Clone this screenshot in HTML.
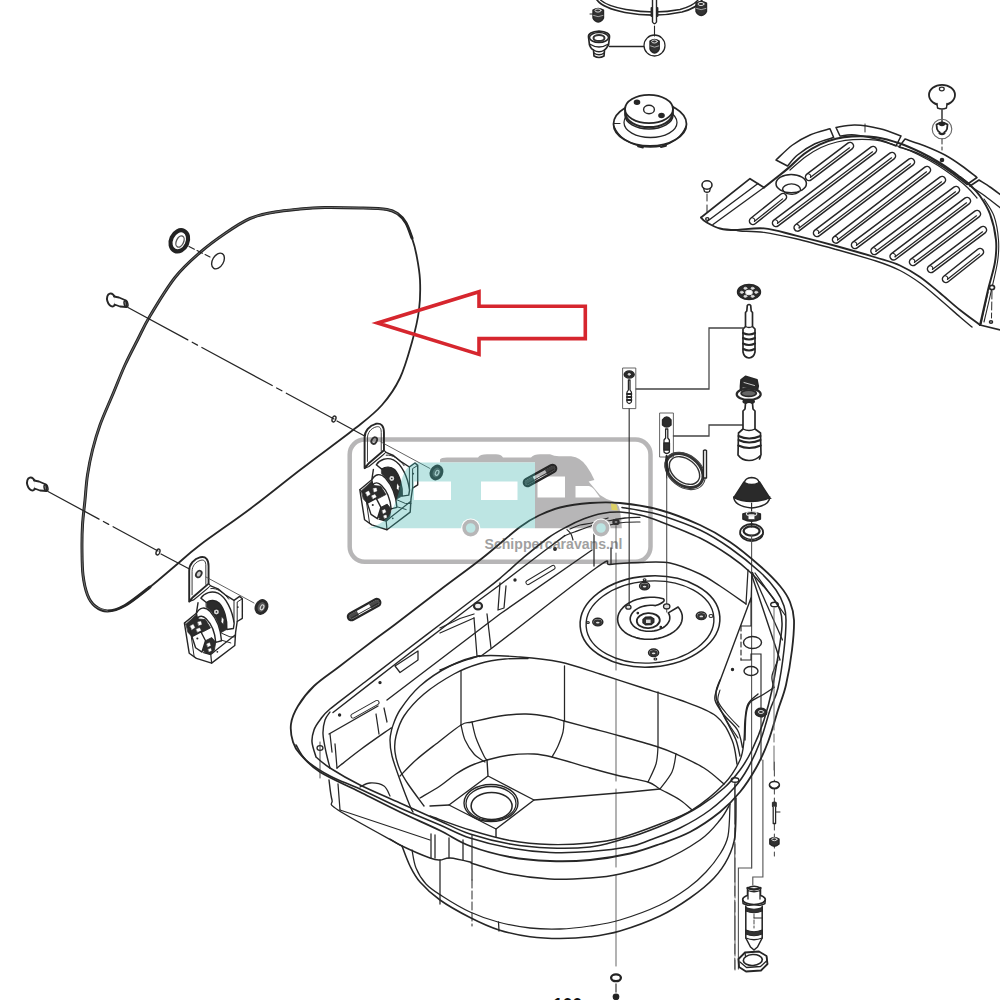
<!DOCTYPE html>
<html><head><meta charset="utf-8"><title>Exploded view</title>
<style>
html,body{margin:0;padding:0;background:#fff;}
body{width:1000px;height:1000px;overflow:hidden;font-family:"Liberation Sans",sans-serif;}
svg{display:block;}
</style></head><body>
<svg width="1000" height="1000" viewBox="0 0 1000 1000" fill="none" stroke-linecap="round" stroke-linejoin="round">
<rect x="0" y="0" width="1000" height="1000" fill="#ffffff"/>
<g id="lid">
<path d="M250.0,218.5 C258.3,214.9 266.7,213.6 275.0,212.0 C283.3,210.4 291.7,209.8 300.0,209.0 C308.3,208.2 315.0,207.7 325.0,207.5 C335.0,207.3 349.7,207.7 360.0,208.0 C370.3,208.3 380.7,208.5 387.0,209.5 C393.3,210.5 394.8,211.8 398.0,214.0 C401.2,216.2 403.7,219.0 406.0,223.0 C408.3,227.0 410.2,232.7 412.0,238.0 C413.8,243.3 415.2,248.0 416.5,255.0 C417.8,262.0 419.6,270.8 420.0,280.0 C420.4,289.2 420.3,299.7 419.0,310.0 C417.7,320.3 415.2,330.7 412.0,342.0 C408.8,353.3 405.0,367.5 400.0,378.0 C395.0,388.5 389.2,396.8 382.0,405.0 C374.8,413.2 370.7,416.2 357.0,427.0 C343.3,437.8 317.8,456.3 300.0,470.0 C282.2,483.7 266.7,496.5 250.0,509.0 C233.3,521.5 212.5,535.5 200.0,545.0 C187.5,554.5 183.3,559.0 175.0,566.0 C166.7,573.0 158.3,580.4 150.0,587.0 C141.7,593.6 132.1,601.5 125.0,605.5 C117.9,609.5 112.5,610.9 107.5,611.0 C102.5,611.1 98.3,608.7 95.0,606.0 C91.7,603.3 89.5,600.2 87.5,595.0 C85.5,589.8 83.9,582.5 83.0,575.0 C82.1,567.5 82.1,558.3 82.0,550.0 C81.9,541.7 82.0,533.3 82.5,525.0 C83.0,516.7 84.2,508.3 85.0,500.0 C85.8,491.7 86.2,483.3 87.5,475.0 C88.8,466.7 90.4,458.3 92.5,450.0 C94.6,441.7 96.7,434.2 100.0,425.0 C103.3,415.8 108.3,405.0 112.5,395.0 C116.7,385.0 120.8,374.2 125.0,365.0 C129.2,355.8 133.3,348.2 137.5,340.0 C141.7,331.8 143.8,326.4 150.0,316.0 C156.2,305.6 166.7,288.1 175.0,277.5 C183.3,266.9 191.7,259.8 200.0,252.5 C208.3,245.2 216.7,239.2 225.0,233.5 C233.3,227.8 241.7,222.1 250.0,218.5Z" fill="none" stroke="#262626" stroke-width="1.8" />
<path d="M150.0,587.0 C145.8,590.1 132.1,601.5 125.0,605.5 C117.9,609.5 112.5,610.9 107.5,611.0 C102.5,611.1 98.3,608.7 95.0,606.0 C91.7,603.3 89.5,600.2 87.5,595.0 C85.5,589.8 83.9,582.5 83.0,575.0 C82.1,567.5 82.1,558.3 82.0,550.0 C81.9,541.7 82.0,533.3 82.5,525.0 C83.0,516.7 84.2,508.3 85.0,500.0 C85.8,491.7 86.2,483.3 87.5,475.0 C88.8,466.7 90.4,458.3 92.5,450.0 C94.6,441.7 96.7,434.2 100.0,425.0 C103.3,415.8 108.3,405.0 112.5,395.0 C116.7,385.0 120.8,374.2 125.0,365.0 C129.2,355.8 133.3,348.2 137.5,340.0 C141.7,331.8 143.8,326.4 150.0,316.0 C156.2,305.6 166.7,288.1 175.0,277.5 C183.3,266.9 191.7,259.8 200.0,252.5 C208.3,245.2 216.7,239.2 225.0,233.5 C233.3,227.8 241.7,222.1 250.0,218.5 C258.3,214.9 266.7,213.6 275.0,212.0 C283.3,210.4 291.7,209.8 300.0,209.0 C308.3,208.2 315.0,207.7 325.0,207.5 C335.0,207.3 349.7,207.7 360.0,208.0 C370.3,208.3 380.7,208.5 387.0,209.5 C393.3,210.5 394.8,211.8 398.0,214.0 C401.2,216.2 403.7,219.0 406.0,223.0 C408.3,227.0 411.0,235.5 412.0,238.0" fill="none" stroke="#262626" stroke-width="3.0" />
<path d="M107.5,611.0 C105.4,610.2 98.3,608.7 95.0,606.0 C91.7,603.3 89.5,600.2 87.5,595.0 C85.5,589.8 83.9,582.5 83.0,575.0 C82.1,567.5 82.1,558.3 82.0,550.0 C81.9,541.7 82.0,533.3 82.5,525.0 C83.0,516.7 84.2,508.3 85.0,500.0 C85.8,491.7 86.2,483.3 87.5,475.0 C88.8,466.7 90.4,458.3 92.5,450.0 C94.6,441.7 96.7,434.2 100.0,425.0 C103.3,415.8 108.3,405.0 112.5,395.0 C116.7,385.0 120.8,374.2 125.0,365.0 C129.2,355.8 133.3,348.2 137.5,340.0 C141.7,331.8 143.8,326.4 150.0,316.0 C156.2,305.6 166.7,288.1 175.0,277.5 C183.3,266.9 191.7,259.8 200.0,252.5 C208.3,245.2 216.7,239.2 225.0,233.5 C233.3,227.8 241.7,222.1 250.0,218.5 C258.3,214.9 266.7,213.6 275.0,212.0 C283.3,210.4 291.7,209.8 300.0,209.0 C308.3,208.2 315.0,207.7 325.0,207.5 C335.0,207.3 349.7,207.7 360.0,208.0 C370.3,208.3 380.7,208.5 387.0,209.5 C393.3,210.5 396.2,213.2 398.0,214.0" fill="none" stroke="#8a8a8a" stroke-width="0.7" />
<ellipse cx="218" cy="261" rx="5.5" ry="8.5" fill="none" stroke="#262626" stroke-width="1.4" transform="rotate(30 218 261)"/>
<ellipse cx="179.3" cy="240.8" rx="8.3" ry="11" fill="none" stroke="#222" stroke-width="4.2" transform="rotate(25 179.3 240.8)"/>
<ellipse cx="180" cy="241.5" rx="3.6" ry="6" fill="none" stroke="#555" stroke-width="1.4" transform="rotate(25 180 241.5)"/>
<line x1="189" y1="246.5" x2="210" y2="257" stroke="#262626" stroke-width="1.12" stroke-dasharray="6 3"/>
<ellipse cx="111.5" cy="300" rx="4.3" ry="6.6" fill="#fff" stroke="#262626" stroke-width="1.96" transform="rotate(-15 111.5 300)"/>
<path d="M114.0,296.5 L119.0,297.5 L126.0,300.5 L126.5,307.0 L120.0,306.5 L114.5,304.5" fill="#fff" stroke="#262626" stroke-width="1.82" />
<ellipse cx="126" cy="303.8" rx="1.8" ry="3.2" fill="none" stroke="#262626" stroke-width="1.54" transform="rotate(-15 126 303.8)"/>
<line x1="128" y1="307.5" x2="334" y2="419" stroke="#262626" stroke-width="1.26" stroke-dasharray="68 5 6 5 80 5 6 5"/>
<ellipse cx="334" cy="419" rx="1.8" ry="3" fill="none" stroke="#262626" stroke-width="1.4" transform="rotate(20 334 419)"/>
<line x1="337" y1="421" x2="372" y2="440" stroke="#262626" stroke-width="1.26"/>
<ellipse cx="31.5" cy="484" rx="4.3" ry="6.6" fill="#fff" stroke="#262626" stroke-width="1.96" transform="rotate(-15 31.5 484)"/>
<path d="M34.0,480.5 L39.0,481.5 L46.0,484.5 L46.5,491.0 L40.0,490.5 L34.5,488.5" fill="#fff" stroke="#262626" stroke-width="1.82" />
<ellipse cx="46" cy="487.8" rx="1.8" ry="3.2" fill="none" stroke="#262626" stroke-width="1.54" transform="rotate(-15 46 487.8)"/>
<line x1="48" y1="491.5" x2="158" y2="551" stroke="#262626" stroke-width="1.26" stroke-dasharray="58 5 6 5 80 5 6 5"/>
<ellipse cx="158" cy="552" rx="1.8" ry="3" fill="none" stroke="#262626" stroke-width="1.4" transform="rotate(20 158 552)"/>
<line x1="161" y1="554" x2="197" y2="573" stroke="#262626" stroke-width="1.26"/>
</g>
<path d="M377.5,323.0 L479.0,291.8 L479.0,306.3 L585.3,306.3 L585.3,338.6 L479.0,338.6 L479.0,354.4Z" fill="none" stroke="#d6262e" stroke-width="3.6" stroke-linejoin="miter" stroke-miterlimit="10"/>
<g id="grill">
<line x1="753" y1="221" x2="783" y2="197" stroke="#262626" stroke-width="8.6"/>
<line x1="753" y1="221" x2="783" y2="197" stroke="#fff" stroke-width="5.6"/>
<line x1="754.5305028665084" y1="221.31234752377722" x2="782.5783308429008" y2="198.87408514266326" stroke="#262626" stroke-width="1.26"/>
<path d="M752.4,217.8 Q755.7,218.9 754.5,221.3" fill="none" stroke="#262626" stroke-width="1.12" />
<line x1="809" y1="177" x2="850" y2="146" stroke="#262626" stroke-width="8.6"/>
<line x1="809" y1="177" x2="850" y2="146" stroke="#fff" stroke-width="5.6"/>
<line x1="810.5213892611281" y1="177.35408292266663" x2="849.5272409329231" y2="147.861853609846" stroke="#262626" stroke-width="1.26"/>
<path d="M808.4,173.8 Q811.7,174.9 810.5,177.4" fill="none" stroke="#262626" stroke-width="1.12" />
<line x1="776" y1="223" x2="873" y2="150" stroke="#262626" stroke-width="8.6"/>
<line x1="776" y1="223" x2="873" y2="150" stroke="#fff" stroke-width="5.6"/>
<line x1="777.5205910172235" y1="223.35749539624865" x2="872.5230648976313" y2="151.8607882491376" stroke="#262626" stroke-width="1.26"/>
<path d="M775.5,219.8 Q778.7,221.0 777.5,223.4" fill="none" stroke="#262626" stroke-width="1.12" />
<line x1="797.6" y1="227.6" x2="892" y2="156" stroke="#262626" stroke-width="8.6"/>
<line x1="797.6" y1="227.6" x2="892" y2="156" stroke="#fff" stroke-width="5.6"/>
<line x1="799.1219224281082" y1="227.95178419922107" x2="891.530054121578" y2="157.86256566900448" stroke="#262626" stroke-width="1.26"/>
<path d="M797.0,224.4 Q800.3,225.5 799.1,228.0" fill="none" stroke="#262626" stroke-width="1.12" />
<line x1="817" y1="233" x2="911" y2="162" stroke="#262626" stroke-width="8.6"/>
<line x1="817" y1="233" x2="911" y2="162" stroke="#fff" stroke-width="5.6"/>
<line x1="818.5212136410926" y1="233.35483666404951" x2="910.5263185202401" y2="163.8616191489487" stroke="#262626" stroke-width="1.26"/>
<path d="M816.4,229.8 Q819.7,231.0 818.5,233.4" fill="none" stroke="#262626" stroke-width="1.12" />
<line x1="836" y1="239.6" x2="927" y2="170" stroke="#262626" stroke-width="8.6"/>
<line x1="836" y1="239.6" x2="927" y2="170" stroke="#fff" stroke-width="5.6"/>
<line x1="837.5233261631521" y1="239.9456550312905" x2="926.5375554657129" y2="171.86444228999127" stroke="#262626" stroke-width="1.26"/>
<path d="M835.4,236.4 Q838.7,237.5 837.5,239.9" fill="none" stroke="#262626" stroke-width="1.12" />
<line x1="855" y1="245" x2="942" y2="180" stroke="#262626" stroke-width="8.6"/>
<line x1="855" y1="245" x2="942" y2="180" stroke="#fff" stroke-width="5.6"/>
<line x1="856.5193344401148" y1="245.3627986481244" x2="941.5165754054179" y2="181.85911286944963" stroke="#262626" stroke-width="1.26"/>
<path d="M854.5,241.8 Q857.7,243.0 856.5,245.4" fill="none" stroke="#262626" stroke-width="1.12" />
<line x1="874.4" y1="251" x2="956" y2="190" stroke="#262626" stroke-width="8.6"/>
<line x1="874.4" y1="251" x2="956" y2="190" stroke="#fff" stroke-width="5.6"/>
<line x1="875.919432755218" y1="251.36238667521093" x2="955.5170795119075" y2="191.85924387915637" stroke="#262626" stroke-width="1.26"/>
<path d="M873.9,247.8 Q877.1,249.0 875.9,251.4" fill="none" stroke="#262626" stroke-width="1.12" />
<line x1="893.6" y1="256.4" x2="967" y2="201" stroke="#262626" stroke-width="8.6"/>
<line x1="893.6" y1="256.4" x2="967" y2="201" stroke="#fff" stroke-width="5.6"/>
<line x1="895.1210890778966" y1="256.7553702535435" x2="966.525665530613" y2="202.86145287642512" stroke="#262626" stroke-width="1.26"/>
<path d="M893.1,253.2 Q896.3,254.4 895.1,256.8" fill="none" stroke="#262626" stroke-width="1.12" />
<line x1="913" y1="262" x2="977" y2="214" stroke="#262626" stroke-width="8.6"/>
<line x1="913" y1="262" x2="977" y2="214" stroke="#fff" stroke-width="5.6"/>
<line x1="914.52" y1="262.35999999999996" x2="976.52" y2="215.86" stroke="#262626" stroke-width="1.26"/>
<path d="M912.5,258.8 Q915.7,260.0 914.5,262.4" fill="none" stroke="#262626" stroke-width="1.12" />
<line x1="931" y1="269" x2="983" y2="230" stroke="#262626" stroke-width="8.6"/>
<line x1="931" y1="269" x2="983" y2="230" stroke="#fff" stroke-width="5.6"/>
<line x1="932.52" y1="269.35999999999996" x2="982.52" y2="231.86" stroke="#262626" stroke-width="1.26"/>
<path d="M930.5,265.8 Q933.7,267.0 932.5,269.4" fill="none" stroke="#262626" stroke-width="1.12" />
<line x1="946" y1="279" x2="980" y2="252" stroke="#262626" stroke-width="8.6"/>
<line x1="946" y1="279" x2="980" y2="252" stroke="#fff" stroke-width="5.6"/>
<line x1="947.5293694198202" y1="279.31785087339637" x2="979.5715923010745" y2="253.87255623240034" stroke="#262626" stroke-width="1.26"/>
<path d="M945.4,275.8 Q948.7,276.9 947.5,279.3" fill="none" stroke="#262626" stroke-width="1.12" />
<path d="M701.0,217.5 C701.8,218.2 702.8,220.2 706.0,222.0 C709.2,223.8 715.0,227.2 720.0,228.5 C725.0,229.8 728.7,230.0 736.0,230.0 C743.3,230.0 754.0,227.5 764.0,228.4 C774.0,229.3 784.0,232.7 796.0,235.6 C808.0,238.5 822.7,242.3 836.0,246.0 C849.3,249.7 865.3,254.2 876.0,257.5 C886.7,260.8 892.7,262.2 900.0,265.5 C907.3,268.8 913.3,272.4 920.0,277.0 C926.7,281.6 933.3,287.5 940.0,293.0 C946.7,298.5 953.3,304.7 960.0,310.0 C966.7,315.3 976.7,322.5 980.0,325.0" fill="none" stroke="#262626" stroke-width="1.82" />
<path d="M736.0,230.0 C736.7,230.2 735.3,230.6 740.0,231.0 C744.7,231.4 754.7,231.1 764.0,232.4 C773.3,233.7 784.0,236.0 796.0,238.8 C808.0,241.7 822.7,245.8 836.0,249.5 C849.3,253.2 865.3,257.5 876.0,261.0 C886.7,264.5 892.7,266.8 900.0,270.5 C907.3,274.2 913.3,278.2 920.0,283.0 C926.7,287.8 933.3,293.8 940.0,299.5 C946.7,305.2 954.7,312.4 960.0,317.0 C965.3,321.6 970.0,325.3 972.0,327.0" fill="none" stroke="#262626" stroke-width="1.4" />
<path d="M701.0,217.5 L750.0,178.7 L764.0,187.5" fill="none" stroke="#262626" stroke-width="1.68" />
<line x1="707" y1="221.5" x2="758" y2="183.5" stroke="#262626" stroke-width="1.4"/>
<line x1="713" y1="224.5" x2="764" y2="187.5" stroke="#262626" stroke-width="1.4"/>
<path d="M764.0,187.5 C766.0,185.9 772.0,181.2 776.0,178.0 C780.0,174.8 783.3,172.4 788.0,168.4 C792.7,164.4 798.7,158.0 804.0,154.0 C809.3,150.0 814.7,146.9 820.0,144.4 C825.3,141.9 830.7,140.1 836.0,138.8 C841.3,137.5 845.3,136.7 852.0,136.4 C858.7,136.1 868.0,136.0 876.0,137.2 C884.0,138.4 892.7,141.0 900.0,143.5 C907.3,146.0 913.3,148.8 920.0,152.0 C926.7,155.2 933.3,158.8 940.0,163.0 C946.7,167.2 955.0,173.3 960.0,177.0 C965.0,180.7 968.3,183.7 970.0,185.0" fill="none" stroke="#262626" stroke-width="2.1" />
<path d="M960.0,177.0 C961.7,178.3 966.7,181.8 970.0,185.0 C973.3,188.2 976.7,191.2 980.0,196.0 C983.3,200.8 987.3,206.7 990.0,214.0 C992.7,221.3 995.2,232.0 996.0,240.0 C996.8,248.0 996.3,253.7 995.0,262.0 C993.7,270.3 990.5,279.5 988.0,290.0 C985.5,300.5 981.3,319.2 980.0,325.0" fill="none" stroke="#262626" stroke-width="1.96" />
<path d="M790.0,170.0 C792.7,167.8 800.8,160.2 806.0,156.5 C811.2,152.8 815.8,149.9 821.0,147.5 C826.2,145.1 831.7,143.3 837.0,142.0 C842.3,140.7 846.5,139.9 853.0,139.6 C859.5,139.3 868.3,139.0 876.0,140.2 C883.7,141.3 892.0,144.1 899.0,146.5 C906.0,148.9 911.5,151.3 918.0,154.5 C924.5,157.7 931.3,161.3 938.0,165.5 C944.7,169.7 953.0,175.8 958.0,179.5 C963.0,183.2 964.8,184.9 968.0,188.0 C971.2,191.1 975.5,196.3 977.0,198.0" fill="none" stroke="#262626" stroke-width="1.26" />
<path d="M776.0,160.0 C778.8,157.5 786.8,149.2 792.5,145.0 C798.2,140.8 803.8,137.7 810.0,135.0 C816.2,132.3 826.7,129.8 830.0,128.8 L833.7,137.5 C830.6,138.5 821.0,140.8 815.0,143.8 C809.0,146.7 802.1,151.3 797.5,155.0 C792.9,158.7 789.2,164.2 787.5,166.0 Z" fill="none" stroke="#262626" stroke-width="1.54" />
<path d="M836.0,127.5 C839.2,127.1 847.7,124.8 855.0,125.0 C862.3,125.2 872.3,126.9 880.0,128.8 C887.7,130.6 897.5,134.8 901.0,136.0 L896.0,146.0 C893.3,145.0 886.8,141.8 880.0,140.0 C873.2,138.2 861.7,135.7 855.0,135.0 C848.3,134.3 842.5,135.8 840.0,136.0 Z" fill="none" stroke="#262626" stroke-width="1.54" />
<path d="M905.0,139.0 C908.3,140.2 918.3,143.3 925.0,146.0 C931.7,148.7 938.8,151.7 945.0,155.0 C951.2,158.3 956.7,162.2 962.0,166.0 C967.3,169.8 974.5,175.6 977.0,177.5 L967.0,184.5 C964.5,182.6 957.3,176.8 952.0,173.0 C946.7,169.2 940.8,165.3 935.0,162.0 C929.2,158.7 923.0,155.5 917.0,153.0 C911.0,150.5 902.0,148.0 899.0,147.0 Z" fill="none" stroke="#262626" stroke-width="1.54" />
<path d="M979.0,180.0 C980.8,181.2 986.3,184.5 990.0,187.0 C993.7,189.5 999.2,193.7 1001.0,195.0 M970,186 L970.0,186.0 C971.5,185.0 977.5,181.0 979.0,180.0" fill="none" stroke="#262626" stroke-width="1.54" />
<path d="M970.0,186.0 C972.5,187.7 979.8,192.2 985.0,196.0 C990.2,199.8 998.3,206.4 1001.0,208.5" fill="none" stroke="#262626" stroke-width="1.4" />
<path d="M984.0,199.0 C985.7,201.8 991.6,209.2 994.0,216.0 C996.4,222.8 997.9,232.3 998.5,240.0 C999.1,247.7 998.8,253.3 997.5,262.0 C996.2,270.7 993.2,282.0 991.0,292.0 C988.8,302.0 985.2,317.0 984.0,322.0" fill="none" stroke="#262626" stroke-width="1.12" />
<path d="M980.0,325.0 L1001.0,330.0" fill="none" stroke="#262626" stroke-width="1.68" />
<line x1="988" y1="292" x2="981" y2="324" stroke="#262626" stroke-width="1.26"/>
<ellipse cx="992" cy="287.5" rx="2.5" ry="2.2" fill="#fff" stroke="#262626" stroke-width="1.68"/>
<ellipse cx="991" cy="322" rx="1.6" ry="1.2" fill="none" stroke="#262626" stroke-width="1.4"/>
<line x1="992" y1="291" x2="991.5" y2="318" stroke="#262626" stroke-width="0.98" stroke-dasharray="8 3"/>
<ellipse cx="791.2" cy="183.6" rx="15.2" ry="9.2" fill="#fff" stroke="#262626" stroke-width="1.54"/>
<path d="M782.5,189.5 A9,5.6 0 0 1 800.5,189.5" fill="none" stroke="#262626" stroke-width="1.4" />
<path d="M783,190 A9,5.6 0 0 0 799,192" fill="none" stroke="#262626" stroke-width="1.26" />
<ellipse cx="707" cy="185" rx="5" ry="4.2" fill="none" stroke="#262626" stroke-width="1.54"/>
<path d="M703.5,188 L704.5,191.5 Q707,193 709.5,191.5 L710.5,188" fill="none" stroke="#262626" stroke-width="1.26" />
<line x1="707" y1="194" x2="707" y2="214" stroke="#262626" stroke-width="0.98" stroke-dasharray="7 4"/>
<ellipse cx="707.3" cy="219" rx="1.6" ry="1.4" fill="none" stroke="#262626" stroke-width="1.4"/>
<line x1="865" y1="124" x2="865" y2="132" stroke="#262626" stroke-width="0.98"/>
</g>
<g id="knob">
<ellipse cx="942" cy="95" rx="13" ry="10.2" fill="#fff" stroke="#262626" stroke-width="1.82"/>
<ellipse cx="941.8" cy="89" rx="2.4" ry="1.8" fill="none" stroke="#262626" stroke-width="1.26"/>
<path d="M937,103.5 L937.5,108 Q942,110 946.5,108 L947,103.5" fill="#fff" stroke="#262626" stroke-width="1.4" />
<line x1="942" y1="110" x2="942" y2="122" stroke="#262626" stroke-width="1.4"/>
<ellipse cx="942" cy="129" rx="9.8" ry="9.8" fill="none" stroke="#666" stroke-width="1.12"/>
<path d="M936.5,124.5 Q942,121 947.5,124.5 L947,129 Q946,131.5 944.5,132 L944.5,133.5 Q942,135 939.5,133.5 L939.5,132 Q938,131.5 937,129Z" fill="#fff" stroke="#262626" stroke-width="1.82" />
<ellipse cx="942" cy="123.8" rx="2.6" ry="1.7" fill="#222" stroke="#262626" stroke-width="1.4"/>
<path d="M939.7,133 Q942,134.6 944.3,133" fill="none" stroke="#262626" stroke-width="1.96" />
<line x1="942" y1="139" x2="942" y2="150" stroke="#262626" stroke-width="0.98" stroke-dasharray="5 3"/>
<ellipse cx="942" cy="160" rx="1.6" ry="1.6" fill="#262626" stroke="#262626" stroke-width="1.4"/>
</g>
<g id="cap">
<ellipse cx="650" cy="124" rx="36.5" ry="22" fill="#fff" stroke="#262626" stroke-width="1.82"/>
<path d="M614,126.5 Q620,141 640,146 Q650,148 662,146 Q680,141 686,126.5" fill="none" stroke="#262626" stroke-width="1.4" />
<ellipse cx="650.5" cy="122.5" rx="26.5" ry="15" fill="none" stroke="#262626" stroke-width="1.26"/>
<path d="M625,109 L625,115 A24,14 0 0 0 673,115 L673,109" fill="#fff" stroke="#262626" stroke-width="1.54" />
<path d="M625.5,113.2 A23.5,14 0 0 0 672.5,113.2" fill="none" stroke="#2a2a2a" stroke-width="2.2" />
<ellipse cx="649" cy="109" rx="24" ry="14.2" fill="#fff" stroke="#262626" stroke-width="1.82"/>
<ellipse cx="649" cy="109.5" rx="5.4" ry="4.2" fill="none" stroke="#262626" stroke-width="1.4"/>
<ellipse cx="637" cy="102.3" rx="2.6" ry="2" fill="#262626" stroke="#262626" stroke-width="1.4"/>
<ellipse cx="661.5" cy="115.5" rx="2.6" ry="2" fill="#262626" stroke="#262626" stroke-width="1.4"/>
<path d="M638,144.8 L638,146.5 L643,147.6 M661,147.2 L666,146 L666,144.3" fill="none" stroke="#262626" stroke-width="1.68" />
<line x1="614" y1="123.5" x2="620" y2="123.5" stroke="#262626" stroke-width="1.12"/>
</g>
<g id="top">
<path d="M597,0 Q603,8 625,12.5 Q655,18 682,12 Q697,8 702,0" fill="none" stroke="#262626" stroke-width="1.68" />
<path d="M600.5,0 Q607,6 626,9.5 Q655,14.5 680,9.5 Q693,6 698,0" fill="none" stroke="#262626" stroke-width="1.4" />
<path d="M652.5,0 L652.5,22 Q654.5,25.5 656.5,22 L656.5,0" fill="#fff" stroke="#262626" stroke-width="1.4" />
<path d="M651.5,8 L651.5,16 M657.5,8 L657.5,16" fill="none" stroke="#262626" stroke-width="1.82" />
<line x1="654.5" y1="26" x2="654.5" y2="36" stroke="#262626" stroke-width="1.12"/>
<path d="M593,10 Q598,7 603.5,10 L603.5,18 Q602,21.5 598.2,22 Q594.5,21.5 593,18Z" fill="#333" stroke="#262626" stroke-width="1.4" />
<path d="M593.5,15.5 Q598,18 603,15.5" fill="none" stroke="#bbb" stroke-width="0.84" />
<ellipse cx="598" cy="10.5" rx="3" ry="1.6" fill="none" stroke="#ddd" stroke-width="0.98"/>
<path d="M696,3 Q701,0 706.5,3 L706.5,11.5 Q705,15 701.2,15.5 Q697.5,15 696,11.5Z" fill="#333" stroke="#262626" stroke-width="1.4" />
<path d="M696.5,8.5 Q701,11 706,8.5" fill="none" stroke="#bbb" stroke-width="0.84" />
<ellipse cx="701" cy="4" rx="3" ry="1.6" fill="none" stroke="#ddd" stroke-width="0.98"/>
<line x1="590" y1="14" x2="593" y2="14" stroke="#262626" stroke-width="0.98"/>
<path d="M588.5,37 Q588,32 599,31 Q610,32 609.5,37 L608.5,45 Q606,49 604.5,50 L604,56 Q599,59 594,56 L593.5,50 Q591,49 589.5,45Z" fill="#fff" stroke="#262626" stroke-width="1.68" />
<ellipse cx="599" cy="37.5" rx="9.5" ry="5" fill="none" stroke="#262626" stroke-width="1.54"/>
<ellipse cx="599" cy="38" rx="5.5" ry="3" fill="none" stroke="#333" stroke-width="2"/>
<path d="M589.5,44 Q599,50 608.5,44 M593.5,50 Q599,53.5 604.5,50 M593.8,53 Q599,56.5 604.2,53" fill="none" stroke="#262626" stroke-width="1.4" />
<line x1="609.5" y1="46.5" x2="643.5" y2="46.5" stroke="#262626" stroke-width="1.26"/>
<ellipse cx="654.5" cy="45.5" rx="10.5" ry="10.5" fill="none" stroke="#262626" stroke-width="1.26"/>
<path d="M650,41 Q654.5,38 659.2,41 L659.2,49 Q658,52.5 654.6,53 Q651.2,52.5 650,49Z" fill="#333" stroke="#262626" stroke-width="1.4" />
<path d="M650.5,46 Q654.5,48.5 658.8,46" fill="none" stroke="#bbb" stroke-width="0.84" />
<ellipse cx="654.5" cy="41.5" rx="2.8" ry="1.5" fill="none" stroke="#ddd" stroke-width="0.98"/>
</g>
<g id="valves">
<ellipse cx="749" cy="292" rx="11.5" ry="7.5" fill="#2a2a2a" stroke="#262626" stroke-width="1.4"/>
<ellipse cx="749" cy="292.5" rx="3.2" ry="2.2" fill="#fff" stroke="#eee" stroke-width="1.12"/>
<ellipse cx="756.2" cy="292.3" rx="1.6" ry="1.1" fill="#ddd" stroke="#ddd" stroke-width="0.7"/>
<ellipse cx="752.6" cy="296.3" rx="1.6" ry="1.1" fill="#ddd" stroke="#ddd" stroke-width="0.7"/>
<ellipse cx="745.4" cy="296.3" rx="1.6" ry="1.1" fill="#ddd" stroke="#ddd" stroke-width="0.7"/>
<ellipse cx="741.8" cy="292.3" rx="1.6" ry="1.1" fill="#ddd" stroke="#ddd" stroke-width="0.7"/>
<ellipse cx="745.4" cy="288.3" rx="1.6" ry="1.1" fill="#ddd" stroke="#ddd" stroke-width="0.7"/>
<ellipse cx="752.6" cy="288.3" rx="1.6" ry="1.1" fill="#ddd" stroke="#ddd" stroke-width="0.7"/>
<path d="M747.3,305.5 Q749,303.5 750.7,305.5 L751.2,311 L752.5,312.5 L752.5,326.5 L755,329 L755,352 Q754,357.5 749,358 Q744,357.5 743,352 L743,329 L745.5,326.5 L745.5,312.5 L746.8,311Z" fill="#fff" stroke="#262626" stroke-width="1.68" />
<path d="M743,333 Q749,336 755,333 M743,338 Q749,341 755,338 M743,343.5 Q749,346.5 755,343.5 M743.5,349 Q749,352 754.5,349" fill="none" stroke="#262626" stroke-width="2.1" />
<path d="M745.5,326.5 Q749,328.5 752.5,326.5" fill="none" stroke="#262626" stroke-width="1.26" />
<path d="M743.0,328.0 L709.0,328.0 L709.0,389.0 L636.0,389.0" fill="none" stroke="#444" stroke-width="1.26" stroke-linejoin="miter"/>
<rect x="623" y="368" width="12.8" height="40.6" fill="none" stroke="#555" stroke-width="0.9"/>
<ellipse cx="629.2" cy="374.5" rx="5" ry="3.6" fill="#2a2a2a" stroke="#262626" stroke-width="1.4"/>
<ellipse cx="629.2" cy="374.3" rx="1.2" ry="0.9" fill="#ddd" stroke="#ddd" stroke-width="0.84"/>
<path d="M628.4,380 L628.4,390 L627,392 L627,402 Q629.2,405 631.4,402 L631.4,392 L630,390 L630,380Z" fill="#fff" stroke="#262626" stroke-width="1.26" />
<path d="M627,394 L631.4,394 M627,397 L631.4,397 M627,400 L631.4,400" fill="none" stroke="#262626" stroke-width="1.82" />
<line x1="629.2" y1="409" x2="629.2" y2="605" stroke="#444" stroke-width="1.26"/>
<line x1="616" y1="526" x2="616" y2="548" stroke="#777" stroke-width="1.12"/>
<line x1="616" y1="553" x2="616" y2="670" stroke="#777" stroke-width="1.12"/>
<line x1="616" y1="680" x2="616" y2="781" stroke="#777" stroke-width="1.12"/>
<line x1="616" y1="789" x2="616" y2="867" stroke="#777" stroke-width="1.12"/>
<line x1="616" y1="875" x2="616" y2="966" stroke="#777" stroke-width="1.12"/>
<rect x="660" y="413" width="13.4" height="44" fill="none" stroke="#555" stroke-width="0.9"/>
<path d="M662.5,420 Q666.7,414 671,420 L671,425 Q666.7,429 662.5,425Z" fill="#2a2a2a" stroke="#262626" stroke-width="1.4" />
<path d="M665.6,429 L665.6,438 L664,440 L664,452 Q666.7,455 669.4,452 L669.4,440 L667.8,438 L667.8,429Z" fill="#fff" stroke="#262626" stroke-width="1.26" />
<path d="M664,443 L669.4,443 L669.4,450 L664,450Z" fill="#333" stroke="#262626" stroke-width="1.4" />
<path d="M673.4,436.0 L709.0,436.0 L709.0,425.0 L743.0,425.0" fill="none" stroke="#444" stroke-width="1.26" stroke-linejoin="miter"/>
<ellipse cx="684.5" cy="470.5" rx="20.5" ry="14.5" fill="none" stroke="#333" stroke-width="3" transform="rotate(38 684.5 470.5)"/>
<ellipse cx="684.5" cy="470.5" rx="17" ry="11.5" fill="none" stroke="#333" stroke-width="1.4" transform="rotate(38 684.5 470.5)"/>
<ellipse cx="685" cy="471" rx="22.3" ry="16" fill="none" stroke="#444" stroke-width="1.12" transform="rotate(38 685 471)"/>
<path d="M666.7,456 Q665.5,463 668.5,471" fill="none" stroke="#262626" stroke-width="2.24" />
<path d="M703.5,450.5 Q705,449.5 706.5,450.5 L706.5,478 L703.5,478Z" fill="#fff" stroke="#262626" stroke-width="1.4" />
<line x1="666.7" y1="457" x2="666.7" y2="478" stroke="#262626" stroke-width="1.12"/>
<line x1="666.7" y1="478" x2="666.7" y2="612" stroke="#555" stroke-width="1.12"/>
<path d="M740.5,386 L741,380 L745.5,376.3 L757,379.8 L758.2,386 L757,392 L740.5,392Z" fill="#2a2a2a" stroke="#262626" stroke-width="1.68" />
<path d="M744,382.5 L754.5,385.5 M743,388 L755,389.5" fill="none" stroke="#ccc" stroke-width="0.98" />
<ellipse cx="748.7" cy="394.3" rx="12" ry="5.6" fill="#fff" stroke="#2a2a2a" stroke-width="2.2"/>
<ellipse cx="748.7" cy="393.3" rx="7.6" ry="3.1" fill="#666" stroke="#2a2a2a" stroke-width="1.8"/>
<ellipse cx="748.7" cy="401.5" rx="5.6" ry="2" fill="#2a2a2a" stroke="#262626" stroke-width="1.4"/>
<path d="M745.5,403.5 Q749,401 752.5,403.5 L753,409 L755,411 L755,429 L760.5,433 L761,455 Q756,460.5 749,460.5 Q742,460.5 738,455 L738.5,433 L743,429 L743,411 L745,409Z" fill="#fff" stroke="#262626" stroke-width="1.68" />
<path d="M738.5,436 Q749,441 760.5,436 M738.5,440 Q749,445 760.5,440 M738.3,445.5 Q749,450.5 760.8,445.5" fill="none" stroke="#262626" stroke-width="1.96" />
<path d="M743,429 Q749,432 755,429" fill="none" stroke="#262626" stroke-width="1.26" />
<path d="M759.5,459 L760.5,456.5" fill="none" stroke="#262626" stroke-width="1.68" />
<path d="M733.8,497 Q734,506 751.6,508 Q769.5,506 769.8,497" fill="#fff" stroke="#262626" stroke-width="1.54" />
<path d="M734,497.5 L744,482 Q751.6,478 759.5,482 L769.5,497.5 Q762,501.5 751.6,501.5 Q741,501.5 734,497.5Z" fill="#2a2a2a" stroke="#262626" stroke-width="1.54" />
<path d="M744.5,482.5 Q745,478 751.6,477.5 Q758.5,478 759,482.5 Q751.6,486.5 744.5,482.5Z" fill="#fff" stroke="#262626" stroke-width="1.26" />
<line x1="765" y1="498.5" x2="771" y2="498.5" stroke="#262626" stroke-width="0.98"/>
<path d="M743,514 Q751.6,510.5 760.3,514 L760.3,519 Q751.6,523.5 743,519Z" fill="#333" stroke="#262626" stroke-width="1.68" />
<rect x="748.3" y="514" width="6.5" height="5.5" fill="#fff" stroke="#333" stroke-width="0.7"/>
<ellipse cx="751.6" cy="513.7" rx="5.2" ry="2.2" fill="none" stroke="#ddd" stroke-width="1.12"/>
<ellipse cx="751.6" cy="532.5" rx="11.5" ry="8.5" fill="#fff" stroke="#262626" stroke-width="1.82"/>
<ellipse cx="751.6" cy="531" rx="8" ry="4.6" fill="none" stroke="#262626" stroke-width="2.24"/>
<path d="M740.2,534 Q751.6,545 763,534" fill="none" stroke="#262626" stroke-width="1.26" />
<line x1="751.6" y1="503" x2="751.6" y2="511" stroke="#262626" stroke-width="1.12"/>
<line x1="751.6" y1="521" x2="751.6" y2="527" stroke="#262626" stroke-width="1.12"/>
<line x1="751.6" y1="535" x2="751.6" y2="868" stroke="#555" stroke-width="1.12"/>
</g>
<g id="br">
<line x1="774.4" y1="762" x2="774.4" y2="856" stroke="#555" stroke-width="1.12" stroke-dasharray="14 4"/>
<ellipse cx="774.4" cy="785" rx="5" ry="3.6" fill="#fff" stroke="#262626" stroke-width="1.54"/>
<path d="M770,786 Q774.4,791 778.8,786" fill="none" stroke="#262626" stroke-width="1.26" />
<path d="M772.7,803 Q774.4,801.5 776.1,803 L776.1,806.5 L775.6,807 L775.6,823.5 L773.2,823.5 L773.2,807 L772.7,806.5Z" fill="#fff" stroke="#262626" stroke-width="1.26" />
<rect x="772.7" y="802.3" width="3.4" height="4" fill="#333" stroke="#333" stroke-width="0.6"/>
<line x1="776" y1="812" x2="780" y2="812" stroke="#262626" stroke-width="0.98"/>
<path d="M769.8,839 Q774.4,836 779,839 L779,844 Q774.4,848.5 769.8,844Z" fill="#333" stroke="#262626" stroke-width="1.4" />
<ellipse cx="774.4" cy="839.3" rx="2.6" ry="1.4" fill="none" stroke="#ddd" stroke-width="0.98"/>
<path d="M751.6,760.0 L751.6,868.0 L738.4,868.0 L738.4,969.0" fill="none" stroke="#555" stroke-width="1.12" stroke-linejoin="miter"/>
<path d="M762.9,760.0 L762.9,877.0 L752.8,877.0 L752.8,885.0" fill="none" stroke="#555" stroke-width="1.12" stroke-linejoin="miter"/>
<line x1="734.8" y1="784" x2="734.8" y2="969" stroke="#555" stroke-width="1.12" stroke-dasharray="40 4 10 4"/>
<path d="M747.5,888 Q754,884.5 760.5,888 L760.5,899 L747.5,899Z" fill="#fff" stroke="#262626" stroke-width="1.54" />
<path d="M747.5,888 Q754,891 760.5,888" fill="none" stroke="#262626" stroke-width="2.24" />
<ellipse cx="754" cy="899.5" rx="11.3" ry="5" fill="#fff" stroke="#262626" stroke-width="1.68"/>
<path d="M748,899 L748,890.5 Q754,893 760,890.5 L760,899" fill="#fff" stroke="#262626" stroke-width="1.26" />
<path d="M742.8,900.5 L743,903.5 Q754,909 765,903.5 L765.2,900.5" fill="none" stroke="#262626" stroke-width="1.4" />
<path d="M745.8,906 L745.8,938 L750.5,947 L754,950 L757.5,947 L762.2,938 L762.2,906" fill="#fff" stroke="#262626" stroke-width="1.54" />
<path d="M745.8,907.5 Q754,911 762.2,907.5 L762.2,911 Q754,914.5 745.8,911Z" fill="#333" stroke="#262626" stroke-width="1.12" />
<path d="M745.8,930 Q754,933.5 762.2,930 L762.2,934 Q754,937.5 745.8,934Z" fill="#333" stroke="#262626" stroke-width="1.12" />
<path d="M745.8,938 Q754,941.5 762.2,938" fill="none" stroke="#262626" stroke-width="1.26" />
<line x1="754" y1="918" x2="762" y2="918" stroke="#262626" stroke-width="0.98"/>
<line x1="754" y1="914" x2="754" y2="928" stroke="#262626" stroke-width="0.84" stroke-dasharray="4 2"/>
<path d="M738.5,959 L745,952.5 L759,951.5 L766.5,956 L767.5,964 L761,970.5 L746,971.5 L739,967Z" fill="#fff" stroke="#262626" stroke-width="1.82" />
<path d="M738.5,959 L739,967 M745,952.5 L745.5,956.5 M766.5,956 L767.5,964" fill="none" stroke="#262626" stroke-width="1.26" />
<ellipse cx="752.8" cy="960" rx="9.5" ry="5.5" fill="none" stroke="#262626" stroke-width="1.68" transform="rotate(-4 752.8 960)"/>
<path d="M740,962 L746.5,967.5 L760.5,966.5 L766.5,961" fill="none" stroke="#262626" stroke-width="1.26" />
</g>
<g id="bot">
<ellipse cx="616" cy="977.8" rx="4.9" ry="3.4" fill="#fff" stroke="#222" stroke-width="2.3"/>
<ellipse cx="616" cy="996.8" rx="2.7" ry="2.7" fill="#222" stroke="#262626" stroke-width="1.4"/>
<line x1="616" y1="984" x2="616" y2="992" stroke="#555" stroke-width="1.4"/>
</g>
<g id="sink">
<path d="M482.5,558.0 C495.8,547.5 510.4,534.2 520.0,527.0 C529.6,519.8 533.3,518.2 540.0,515.0 C546.7,511.8 551.7,509.5 560.0,507.5 C568.3,505.5 580.0,503.8 590.0,503.0 C600.0,502.2 608.3,501.8 620.0,503.0 C631.7,504.2 646.7,506.3 660.0,510.0 C673.3,513.7 688.3,519.7 700.0,525.0 C711.7,530.3 720.0,535.2 730.0,542.0 C740.0,548.8 751.7,558.7 760.0,566.0 C768.3,573.3 775.0,580.0 780.0,586.0 C785.0,592.0 787.7,596.3 790.0,602.0 C792.3,607.7 793.7,612.0 794.0,620.0 C794.3,628.0 793.3,639.2 792.0,650.0 C790.7,660.8 788.3,675.0 786.0,685.0 C783.7,695.0 781.0,700.5 778.0,710.0 C775.0,719.5 771.7,732.3 768.0,742.0 C764.3,751.7 760.7,759.7 756.0,768.0 C751.3,776.3 746.0,784.7 740.0,792.0 C734.0,799.3 728.3,805.3 720.0,812.0 C711.7,818.7 700.0,826.7 690.0,832.0 C680.0,837.3 670.0,840.4 660.0,844.0 C650.0,847.6 641.7,850.8 630.0,853.5 C618.3,856.2 603.3,858.8 590.0,860.0 C576.7,861.2 563.3,861.5 550.0,861.0 C536.7,860.5 523.3,859.5 510.0,857.0 C496.7,854.5 481.7,850.4 470.0,846.0 C458.3,841.6 451.7,836.2 440.0,830.5 C428.3,824.8 413.3,818.4 400.0,812.0 C386.7,805.6 373.3,798.7 360.0,792.0 C346.7,785.3 330.0,778.3 320.0,772.0 C310.0,765.7 304.5,759.0 300.0,754.0 C295.5,749.0 294.5,747.0 293.0,742.0 C291.5,737.0 290.2,730.0 291.0,724.0 C291.8,718.0 294.2,712.3 298.0,706.0 C301.8,699.7 307.0,692.7 314.0,686.0 C321.0,679.3 330.0,673.7 340.0,666.0 C350.0,658.3 364.8,646.9 374.0,640.0 C383.2,633.1 384.0,632.8 395.0,624.5 C406.0,616.2 425.4,601.1 440.0,590.0 C454.6,578.9 469.2,568.5 482.5,558.0Z" fill="none" stroke="#262626" stroke-width="1.82" />
<path d="M622.0,507.5 C625.0,508.0 633.7,509.2 640.0,510.5 C646.3,511.8 650.0,511.8 660.0,515.0 C670.0,518.2 688.3,524.5 700.0,530.0 C711.7,535.5 720.0,541.0 730.0,548.0 C740.0,555.0 752.3,565.0 760.0,572.0 C767.7,579.0 772.0,584.3 776.0,590.0 C780.0,595.7 782.3,601.0 784.0,606.0 C785.7,611.0 786.0,612.7 786.0,620.0 C786.0,627.3 785.3,638.7 784.0,650.0 C782.7,661.3 780.3,678.0 778.0,688.0 C775.7,698.0 773.0,701.0 770.0,710.0 C767.0,719.0 763.7,732.3 760.0,742.0 C756.3,751.7 752.3,760.3 748.0,768.0 C743.7,775.7 740.3,781.0 734.0,788.0 C727.7,795.0 719.0,803.3 710.0,810.0 C701.0,816.7 690.0,823.0 680.0,828.0 C670.0,833.0 658.3,836.9 650.0,840.0 C641.7,843.1 640.0,844.6 630.0,846.5 C620.0,848.4 603.3,850.5 590.0,851.5 C576.7,852.5 563.3,853.0 550.0,852.4 C536.7,851.8 523.3,850.4 510.0,848.0 C496.7,845.6 481.7,841.8 470.0,838.0 C458.3,834.2 451.7,830.0 440.0,825.0 C428.3,820.0 413.3,814.0 400.0,808.0 C386.7,802.0 371.7,794.3 360.0,789.0 C348.3,783.7 339.0,780.8 330.0,776.0 C321.0,771.2 311.7,765.2 306.0,760.0 C300.3,754.8 297.7,747.5 296.0,745.0" fill="none" stroke="#262626" stroke-width="1.54" />
<path d="M316.0,757.0 C315.3,754.5 312.3,746.5 312.0,742.0 C311.7,737.5 312.7,733.7 314.0,730.0 C315.3,726.3 317.3,723.5 320.0,720.0 C322.7,716.5 322.5,715.3 330.0,709.0 C337.5,702.7 353.3,691.0 365.0,682.0 C376.7,673.0 387.5,664.6 400.0,655.0 C412.5,645.4 426.7,634.7 440.0,624.5 C453.3,614.3 470.0,601.7 480.0,594.0 C490.0,586.3 492.7,584.4 500.0,578.3 C507.3,572.2 516.0,563.9 524.0,557.2 C532.0,550.5 541.0,543.0 548.0,538.0 C555.0,533.0 560.0,530.4 566.0,527.2 C572.0,524.0 578.0,521.1 584.0,518.8 C590.0,516.5 596.0,514.5 602.0,513.4 C608.0,512.3 613.7,511.7 620.0,512.0 C626.3,512.3 633.3,513.4 640.0,515.0 C646.7,516.6 650.0,517.7 660.0,521.5 C670.0,525.3 688.3,532.2 700.0,538.0 C711.7,543.8 721.7,550.3 730.0,556.0 C738.3,561.7 743.3,565.7 750.0,572.0 C756.7,578.3 765.0,587.7 770.0,594.0 C775.0,600.3 778.0,604.7 780.0,610.0 C782.0,615.3 782.3,618.3 782.0,626.0 C781.7,633.7 779.7,645.3 778.0,656.0 C776.3,666.7 774.3,679.3 772.0,690.0 C769.7,700.7 767.3,710.0 764.0,720.0 C760.7,730.0 756.0,741.7 752.0,750.0 C748.0,758.3 744.7,763.7 740.0,770.0 C735.3,776.3 730.7,782.0 724.0,788.0 C717.3,794.0 709.0,800.3 700.0,806.0 C691.0,811.7 680.0,817.3 670.0,822.0 C660.0,826.7 648.3,831.0 640.0,834.0 C631.7,837.0 628.3,837.8 620.0,840.0 C611.7,842.2 601.7,845.7 590.0,847.0 C578.3,848.3 563.3,848.5 550.0,848.0 C536.7,847.5 523.3,846.3 510.0,844.0 C496.7,841.7 481.7,837.8 470.0,834.0 C458.3,830.2 451.7,826.2 440.0,821.0 C428.3,815.8 413.3,809.0 400.0,803.0 C386.7,797.0 371.7,790.8 360.0,785.0 C348.3,779.2 337.3,772.7 330.0,768.0 C322.7,763.3 318.3,758.8 316.0,757.0" fill="none" stroke="#262626" stroke-width="1.54" />
<path d="M758.0,694.0 C756.3,695.7 750.2,699.7 748.0,704.0 C745.8,708.3 745.7,714.0 745.0,720.0 C744.3,726.0 744.8,733.3 744.0,740.0 C743.2,746.7 743.3,752.7 740.0,760.0 C736.7,767.3 732.0,775.7 724.0,784.0 C716.0,792.3 702.7,803.3 692.0,810.0 C681.3,816.7 672.0,819.3 660.0,824.0 C648.0,828.7 631.7,834.8 620.0,838.0 C608.3,841.2 601.7,841.9 590.0,843.0 C578.3,844.1 563.3,844.9 550.0,844.5 C536.7,844.1 523.3,842.9 510.0,840.5 C496.7,838.1 483.3,834.1 470.0,830.0 C456.7,825.9 436.7,818.3 430.0,816.0" fill="none" stroke="#262626" stroke-width="1.4" />
<path d="M333.0,712.5 C344.2,703.8 382.2,674.2 400.0,660.5 C417.8,646.8 426.7,640.2 440.0,630.0 C453.3,619.8 470.0,607.0 480.0,599.5 C490.0,592.0 490.7,591.8 500.0,584.8 C509.3,577.8 525.2,565.4 536.0,557.2 C546.8,549.0 560.0,539.2 564.8,535.6" fill="none" stroke="#262626" stroke-width="1.4" />
<path d="M564.8,535.6 C566.4,535.0 570.0,533.6 574.4,532.0 C578.8,530.4 585.4,527.8 591.0,526.0 C596.6,524.2 602.3,522.3 608.0,521.0 C613.7,519.7 619.7,518.6 625.0,518.0 C630.3,517.4 637.5,517.4 640.0,517.3" fill="none" stroke="#262626" stroke-width="1.26" />
<path d="M598.0,529.0 C600.3,528.2 607.3,525.6 612.0,524.5 C616.7,523.4 621.3,522.7 626.0,522.3 C630.7,521.9 637.7,522.0 640.0,522.0" fill="none" stroke="#262626" stroke-width="1.12" />
<path d="M567.0,529.6 C567.7,530.3 570.0,532.3 571.0,534.0 C572.0,535.7 572.7,539.0 573.0,540.0" fill="none" stroke="#262626" stroke-width="1.26" />
<path d="M329.0,734.0 L378.0,706.0" fill="none" stroke="#262626" stroke-width="1.4" />
<path d="M387.0,700.0 L500.0,614.0 L592.0,550.0" fill="none" stroke="#262626" stroke-width="1.4" />
<path d="M337.0,768.0 C340.8,765.0 351.0,756.7 360.0,750.0 C369.0,743.3 385.8,731.7 391.0,728.0" fill="none" stroke="#262626" stroke-width="1.4" />
<path d="M440.0,670.0 C443.3,668.7 453.7,664.3 460.0,662.0 C466.3,659.7 472.7,658.3 478.0,656.0 C483.3,653.7 472.3,662.7 492.0,648.0 C511.7,633.3 576.3,581.9 596.0,568.0 C615.7,554.1 602.7,565.4 610.0,564.5 C617.3,563.6 630.0,562.8 640.0,562.5 C650.0,562.2 660.0,561.1 670.0,563.0 C680.0,564.9 691.7,570.2 700.0,574.0 C708.3,577.8 712.3,581.0 720.0,586.0 C727.7,591.0 741.7,601.0 746.0,604.0" fill="none" stroke="#262626" stroke-width="1.4" />
<path d="M330.0,712.0 C329.2,713.3 326.2,716.3 325.0,720.0 C323.8,723.7 322.8,728.7 323.0,734.0 C323.2,739.3 324.8,746.3 326.0,752.0 C327.2,757.7 329.3,765.3 330.0,768.0" fill="none" stroke="#262626" stroke-width="1.4" />
<path d="M330.0,734.0 L332.0,752.0" fill="none" stroke="#262626" stroke-width="1.26" />
<path d="M335.0,744.0 L337.0,768.0" fill="none" stroke="#262626" stroke-width="1.26" />
<ellipse cx="320" cy="748" rx="3" ry="2.4" fill="none" stroke="#262626" stroke-width="1.26"/>
<line x1="320" y1="742" x2="320" y2="778" stroke="#262626" stroke-width="0.84"/>
<line x1="353" y1="716" x2="377" y2="702.5" stroke="#262626" stroke-width="5"/>
<line x1="353" y1="716" x2="377" y2="702.5" stroke="#fff" stroke-width="3.2"/>
<ellipse cx="339.6" cy="715" rx="1" ry="1" fill="#262626" stroke="#262626" stroke-width="1.4"/>
<ellipse cx="380" cy="682.6" rx="1" ry="1" fill="#262626" stroke="#262626" stroke-width="1.4"/>
<path d="M395.0,666.0 L418.0,651.0 L418.0,660.0 L400.0,672.5 L395.0,666.0" fill="none" stroke="#262626" stroke-width="1.26" />
<path d="M376.0,714.0 L379.0,734.0" fill="none" stroke="#262626" stroke-width="1.26" />
<path d="M384.0,708.0 L387.0,722.0" fill="none" stroke="#262626" stroke-width="1.26" />
<line x1="528" y1="582.5" x2="553" y2="567.5" stroke="#262626" stroke-width="5"/>
<line x1="528" y1="582.5" x2="553" y2="567.5" stroke="#fff" stroke-width="3.2"/>
<ellipse cx="515" cy="580" rx="1" ry="1" fill="#262626" stroke="#262626" stroke-width="1.4"/>
<ellipse cx="555" cy="549" rx="1.2" ry="1.2" fill="#262626" stroke="#262626" stroke-width="1.4"/>
<path d="M500.0,583.0 L498.0,610.0 L504.0,608.0 L506.0,586.0" fill="none" stroke="#262626" stroke-width="1.26" />
<ellipse cx="478" cy="606" rx="4" ry="3.4" fill="#eee" stroke="#2a2a2a" stroke-width="2.2"/>
<path d="M440.0,628.0 L460.0,618.5 L474.0,614.0" fill="none" stroke="#262626" stroke-width="1.26" />
<path d="M440.0,633.0 L474.0,618.0" fill="none" stroke="#262626" stroke-width="1.26" />
<path d="M474.0,618.0 L477.0,656.0" fill="none" stroke="#262626" stroke-width="1.26" />
<path d="M487.0,614.0 L491.0,648.0" fill="none" stroke="#262626" stroke-width="1.26" />
<path d="M570.0,529.0 C571.7,528.3 576.3,526.0 580.0,525.0 C583.7,524.0 587.3,524.2 592.0,523.0 C596.7,521.8 605.3,518.8 608.0,518.0" fill="none" stroke="#262626" stroke-width="1.26" />
<path d="M594.0,526.0 L594.0,566.0" fill="none" stroke="#262626" stroke-width="1.26" />
<path d="M611.0,548.0 L611.0,564.0" fill="none" stroke="#262626" stroke-width="1.26" />
<ellipse cx="616" cy="522" rx="2.6" ry="2.2" fill="#bbb" stroke="#333" stroke-width="2.24"/>
<path d="M392.0,728.0 C393.3,725.0 395.3,717.0 400.0,710.0 C404.7,703.0 411.7,693.3 420.0,686.0 C428.3,678.7 440.0,671.0 450.0,666.0 C460.0,661.0 468.3,657.5 480.0,656.0 C491.7,654.5 506.7,656.0 520.0,657.0 C533.3,658.0 546.7,659.2 560.0,662.0 C573.3,664.8 586.7,669.8 600.0,674.0 C613.3,678.2 626.7,682.7 640.0,687.0 C653.3,691.3 667.3,695.2 680.0,700.0 C692.7,704.8 707.3,709.3 716.0,716.0 C724.7,722.7 728.5,732.0 732.0,740.0 C735.5,748.0 736.2,760.0 737.0,764.0" fill="none" stroke="#262626" stroke-width="1.4" />
<path d="M424.0,806.0 C421.3,802.3 412.0,790.0 408.0,784.0 C404.0,778.0 402.2,775.3 400.0,770.0 C397.8,764.7 395.7,757.7 395.0,752.0 C394.3,746.3 394.5,742.0 396.0,736.0 C397.5,730.0 399.3,723.0 404.0,716.0 C408.7,709.0 415.7,701.0 424.0,694.0 C432.3,687.0 444.7,679.1 454.0,674.0 C463.3,668.9 471.5,666.0 480.0,663.5 C488.5,661.0 497.0,659.8 505.0,659.0 C513.0,658.2 524.2,658.6 528.0,658.5" fill="none" stroke="#262626" stroke-width="1.4" />
<path d="M392.0,728.0 C391.7,730.0 390.0,735.3 390.0,740.0 C390.0,744.7 390.3,749.3 392.0,756.0 C393.7,762.7 397.0,771.7 400.0,780.0 C403.0,788.3 407.8,800.7 410.0,806.0 C412.2,811.3 412.5,811.0 413.0,812.0" fill="none" stroke="#262626" stroke-width="1.4" />
<line x1="461" y1="671" x2="461" y2="725" stroke="#262626" stroke-width="1.26"/>
<line x1="564.5" y1="666" x2="564.5" y2="721" stroke="#262626" stroke-width="1.26"/>
<line x1="658" y1="692" x2="658" y2="746" stroke="#262626" stroke-width="1.26"/>
<path d="M400.0,776.0 C402.7,773.3 410.0,765.3 416.0,760.0 C422.0,754.7 428.5,749.8 436.0,744.0 C443.5,738.2 455.0,728.7 461.0,725.0 C467.0,721.3 465.5,723.5 472.0,722.0 C478.5,720.5 491.0,717.3 500.0,716.0 C509.0,714.7 517.7,713.8 526.0,714.0 C534.3,714.2 543.7,715.8 550.0,717.0 C556.3,718.2 557.3,719.2 564.0,721.0 C570.7,722.8 580.7,725.5 590.0,728.0 C599.3,730.5 608.7,732.8 620.0,736.0 C631.3,739.2 648.7,744.0 658.0,747.0 C667.3,750.0 668.3,750.5 676.0,754.0 C683.7,757.5 696.0,763.0 704.0,768.0 C712.0,773.0 720.7,781.3 724.0,784.0" fill="none" stroke="#262626" stroke-width="1.4" />
<path d="M420.0,798.0 C423.3,796.0 434.0,790.0 440.0,786.0 C446.0,782.0 451.0,777.3 456.0,774.0 C461.0,770.7 464.8,768.3 470.0,766.0 C475.2,763.7 480.3,761.8 487.0,760.0 C493.7,758.2 502.2,756.0 510.0,755.0 C517.8,754.0 527.0,753.7 534.0,754.0 C541.0,754.3 542.7,754.7 552.0,757.0 C561.3,759.3 578.7,764.8 590.0,768.0 C601.3,771.2 610.3,773.7 620.0,776.0 C629.7,778.3 641.3,779.8 648.0,782.0 C654.7,784.2 654.7,786.0 660.0,789.0 C665.3,792.0 674.7,796.5 680.0,800.0 C685.3,803.5 690.0,808.3 692.0,810.0" fill="none" stroke="#262626" stroke-width="1.4" />
<path d="M461.0,725.0 C461.7,727.5 462.8,735.2 465.0,740.0 C467.2,744.8 470.7,750.3 474.0,754.0 C477.3,757.7 483.2,760.7 485.0,762.0" fill="none" stroke="#262626" stroke-width="1.26" />
<path d="M472.0,722.0 C472.7,724.7 474.0,732.3 476.0,738.0 C478.0,743.7 482.2,752.3 484.0,756.0 C485.8,759.7 486.5,759.3 487.0,760.0" fill="none" stroke="#262626" stroke-width="1.26" />
<path d="M564.0,721.0 C563.8,722.8 564.0,727.8 563.0,732.0 C562.0,736.2 559.8,741.8 558.0,746.0 C556.2,750.2 553.0,755.2 552.0,757.0" fill="none" stroke="#262626" stroke-width="1.26" />
<path d="M658.0,747.0 C657.7,749.8 657.7,758.2 656.0,764.0 C654.3,769.8 649.3,779.0 648.0,782.0" fill="none" stroke="#262626" stroke-width="1.26" />
<path d="M676.0,754.0 C675.3,757.0 674.7,766.2 672.0,772.0 C669.3,777.8 662.0,786.2 660.0,789.0" fill="none" stroke="#262626" stroke-width="1.26" />
<path d="M487.0,760.0 L488.0,776.0 L534.0,800.0 L496.0,829.0 L449.0,805.0 L488.0,776.0" fill="none" stroke="#262626" stroke-width="1.4" />
<path d="M534.0,800.0 L630.0,792.0 L660.0,789.0" fill="none" stroke="#262626" stroke-width="1.4" />
<line x1="496" y1="829" x2="496" y2="837" stroke="#262626" stroke-width="1.4"/>
<line x1="449" y1="805" x2="430" y2="806" stroke="#262626" stroke-width="1.4"/>
<ellipse cx="491" cy="803" rx="27" ry="18.5" fill="none" stroke="#262626" stroke-width="1.4"/>
<ellipse cx="491" cy="803.5" rx="25" ry="17" fill="none" stroke="#262626" stroke-width="1.26"/>
<ellipse cx="491.6" cy="806" rx="20.5" ry="13.5" fill="none" stroke="#262626" stroke-width="1.54"/>
<path d="M360.0,787.0 C361.7,786.3 366.0,783.2 370.0,783.0 C374.0,782.8 380.7,783.8 384.0,786.0 C387.3,788.2 389.0,794.3 390.0,796.0" fill="none" stroke="#262626" stroke-width="1.26" />
<ellipse cx="650" cy="621.5" rx="70" ry="45.5" fill="none" stroke="#262626" stroke-width="1.54" transform="rotate(-4 650 621.5)"/>
<ellipse cx="650" cy="622" rx="64" ry="41" fill="none" stroke="#262626" stroke-width="1.4" transform="rotate(-4 650 622)"/>
</g>
<g id="sink2">
<path d="M678.1,607.0 L680.0,609.6 L681.4,612.4 L682.2,615.3 L682.3,618.2 L681.8,621.2 L680.7,624.1 L678.9,626.9 L676.6,629.5 L673.7,631.9 L670.3,634.0 L666.6,635.8 L662.5,637.3 L658.2,638.4 L653.7,639.1 L649.1,639.3 L644.6,639.2 L640.1,638.6 L635.9,637.6 L631.9,636.3 L628.3,634.6 L625.1,632.5 L622.5,630.2 L620.3,627.6 L618.8,624.9 L617.9,622.0 L617.6,619.0 L618.0,616.1 L619.0,613.1 L620.6,610.3 L622.9,607.7 L625.6,605.2 L628.9,603.0 L632.5,601.1 L636.6,599.6 L640.8,598.4 L645.3,597.6 L649.9,597.3 L654.4,597.3 L658.9,597.8 L663.2,598.7 Q667.0,601.5 655.5,605.6 L652.9,605.3 L650.2,605.3 L647.6,605.5 L645.0,605.9 L642.4,606.5 L640.1,607.3 L637.9,608.4 L635.9,609.6 L634.1,611.0 L632.7,612.5 L631.6,614.1 L630.8,615.8 L630.3,617.5 L630.2,619.3 L630.5,621.0 L631.1,622.7 L632.1,624.3 L633.3,625.8 L634.9,627.2 L636.8,628.4 L638.8,629.4 L641.1,630.2 L643.6,630.8 L646.1,631.2 L648.8,631.3 L651.4,631.2 L654.1,630.9 L656.6,630.4 L659.1,629.6 L661.3,628.6 L663.4,627.5 L665.2,626.1 L666.8,624.7 L668.0,623.1 L669.0,621.4 L669.6,619.7 L669.8,618.0 L669.7,616.2 L669.2,614.5 L668.3,612.9 Z" fill="none" stroke="#262626" stroke-width="1.61" />
<ellipse cx="648.3" cy="620.6" rx="11.5" ry="7.5" fill="none" stroke="#262626" stroke-width="1.82" transform="rotate(-3 648.3 620.6)"/>
<path d="M643,619.5 L645.5,617.3 L651,617 L653.8,618.8 L653.8,622.2 L651,624.6 L645.5,624.8 L643,622.8Z" fill="#333" stroke="#262626" stroke-width="1.4" />
<rect x="646" y="619.6" width="4.6" height="3.4" fill="#ddd" stroke="none"/>
<ellipse cx="644.6" cy="586" rx="5" ry="3.8" fill="none" stroke="#262626" stroke-width="1.54"/>
<ellipse cx="644.6" cy="586.6" rx="3" ry="2.1" fill="#ddd" stroke="#333" stroke-width="2.38"/>
<ellipse cx="597.8" cy="622" rx="5" ry="3.8" fill="none" stroke="#262626" stroke-width="1.54"/>
<ellipse cx="597.8" cy="622.6" rx="3" ry="2.1" fill="#ddd" stroke="#333" stroke-width="2.38"/>
<ellipse cx="701.3" cy="615.8" rx="5" ry="3.8" fill="none" stroke="#262626" stroke-width="1.54"/>
<ellipse cx="701.3" cy="616.4" rx="3" ry="2.1" fill="#ddd" stroke="#333" stroke-width="2.38"/>
<ellipse cx="653.6" cy="652.7" rx="5" ry="3.8" fill="none" stroke="#262626" stroke-width="1.54"/>
<ellipse cx="653.6" cy="653.3000000000001" rx="3" ry="2.1" fill="#ddd" stroke="#333" stroke-width="2.38"/>
<ellipse cx="628.4" cy="607.2" rx="2.6" ry="2" fill="#ddd" stroke="#262626" stroke-width="1.26"/>
<ellipse cx="666.7" cy="606.4" rx="3.2" ry="2.5" fill="#ddd" stroke="#262626" stroke-width="1.26"/>
<ellipse cx="711" cy="616" rx="2" ry="1.5" fill="none" stroke="#262626" stroke-width="1.12"/>
<ellipse cx="588" cy="622.5" rx="1.3" ry="1" fill="none" stroke="#262626" stroke-width="1.12"/>
<ellipse cx="644.6" cy="579.8" rx="1.4" ry="1" fill="none" stroke="#262626" stroke-width="1.12"/>
<ellipse cx="655.4" cy="659" rx="1.4" ry="1" fill="none" stroke="#262626" stroke-width="1.12"/>
<ellipse cx="637.8" cy="613.1" rx="0.8" ry="0.8" fill="#262626" stroke="#262626" stroke-width="1.12"/>
<ellipse cx="660.8" cy="627" rx="0.8" ry="0.8" fill="#262626" stroke="#262626" stroke-width="1.12"/>
<path d="M748.0,570.0 L746.0,604.0" fill="none" stroke="#262626" stroke-width="1.26" />
<path d="M752.0,573.0 L751.0,602.0" fill="none" stroke="#262626" stroke-width="1.26" />
<path d="M751.0,598.0 L717.5,687.5" fill="none" stroke="#262626" stroke-width="1.4" />
<path d="M717.5,687.5 C717.1,689.6 713.9,695.4 715.0,700.0 C716.1,704.6 720.2,710.0 724.0,715.0 C727.8,720.0 734.4,724.6 737.5,730.0 C740.6,735.4 741.7,744.6 742.5,747.5" fill="none" stroke="#262626" stroke-width="1.4" />
<path d="M720.0,690.0 C719.7,691.8 717.0,697.2 718.0,701.0 C719.0,704.8 722.5,708.7 726.0,713.0 C729.5,717.3 736.8,724.7 739.0,727.0" fill="none" stroke="#262626" stroke-width="1.12" />
<path d="M752.0,576.0 L780.0,660.0" fill="none" stroke="#262626" stroke-width="1.4" />
<path d="M752.5,572.5 L782.5,640.0" fill="none" stroke="#262626" stroke-width="1.26" />
<path d="M755.0,573.0 L785.0,615.0" fill="none" stroke="#262626" stroke-width="1.26" />
<ellipse cx="774.5" cy="604.5" rx="3.8" ry="2.3" fill="none" stroke="#262626" stroke-width="1.4"/>
<ellipse cx="752.5" cy="642.5" rx="9" ry="6" fill="none" stroke="#262626" stroke-width="1.4"/>
<ellipse cx="751" cy="671" rx="7" ry="4.5" fill="none" stroke="#262626" stroke-width="1.4"/>
<ellipse cx="732.5" cy="669.5" rx="1" ry="1" fill="#262626" stroke="#262626" stroke-width="1.4"/>
<path d="M751.0,599.0 L751.0,626.0 L741.0,626.0" fill="none" stroke="#262626" stroke-width="1.12" stroke-linejoin="miter"/>
<line x1="741" y1="626" x2="741" y2="660" stroke="#262626" stroke-width="1.12" stroke-dasharray="5 3"/>
<path d="M741.0,660.0 L751.0,660.0 L751.0,654.0 L761.0,654.0 L761.0,760.0" fill="none" stroke="#262626" stroke-width="1.12" stroke-linejoin="miter"/>
<path d="M774.0,687.5 C772.1,688.8 766.5,692.5 762.5,695.0 C758.5,697.5 752.8,699.2 750.0,702.5 C747.2,705.8 746.8,708.8 746.0,715.0 C745.2,721.2 745.2,735.8 745.0,740.0" fill="none" stroke="#262626" stroke-width="1.4" />
<path d="M778.0,660.0 C777.0,662.7 772.7,671.4 772.0,676.0 C771.3,680.6 773.7,685.6 774.0,687.5" fill="none" stroke="#262626" stroke-width="1.26" />
<ellipse cx="761" cy="712.5" rx="5.5" ry="4" fill="#333" stroke="#262626" stroke-width="1.96"/>
<ellipse cx="761" cy="712" rx="2.6" ry="1.6" fill="none" stroke="#ccc" stroke-width="0.98"/>
<ellipse cx="735" cy="780" rx="3.8" ry="2.3" fill="none" stroke="#262626" stroke-width="1.4"/>
<line x1="774" y1="608" x2="774" y2="700" stroke="#666" stroke-width="0.98"/>
<line x1="774" y1="700" x2="774" y2="770" stroke="#666" stroke-width="0.98" stroke-dasharray="30 4 8 4"/>
<line x1="735" y1="783" x2="735" y2="800" stroke="#262626" stroke-width="0.98"/>
<line x1="735" y1="800" x2="735" y2="970" stroke="#555" stroke-width="0.98" stroke-dasharray="40 4 10 4"/>
<path d="M720.0,680.0 C719.3,682.0 716.3,688.0 716.0,692.0 C715.7,696.0 716.0,698.7 718.0,704.0 C720.0,709.3 725.0,718.0 728.0,724.0 C731.0,730.0 734.0,734.7 736.0,740.0 C738.0,745.3 739.3,753.3 740.0,756.0" fill="none" stroke="#262626" stroke-width="1.4" />
<path d="M724.0,716.0 C725.0,717.7 727.7,722.3 730.0,726.0 C732.3,729.7 736.7,736.0 738.0,738.0" fill="none" stroke="#262626" stroke-width="1.12" />
<path d="M329.0,780.0 C329.5,783.3 330.5,795.0 332.0,800.0 C333.5,805.0 326.3,802.3 338.0,810.0 C349.7,817.7 391.3,840.0 402.0,846.0" fill="none" stroke="#262626" stroke-width="1.4" />
<path d="M338.0,784.0 L340.0,810.0" fill="none" stroke="#262626" stroke-width="1.26" />
<path d="M340.0,810.0 L430.0,840.0" fill="none" stroke="#262626" stroke-width="1.26" />
<path d="M390.0,839.0 C392.0,840.2 395.3,842.8 402.0,846.0 C408.7,849.2 423.7,855.7 430.0,858.0 C436.3,860.3 436.7,860.0 440.0,860.0 C443.3,860.0 445.0,857.7 450.0,858.0 C455.0,858.3 466.0,861.0 470.0,862.0 C474.0,863.0 467.3,862.0 474.0,864.0 C480.7,866.0 497.3,871.5 510.0,874.0 C522.7,876.5 536.7,878.3 550.0,879.0 C563.3,879.7 578.3,878.8 590.0,878.0 C601.7,877.2 608.3,876.7 620.0,874.0 C631.7,871.3 646.7,867.7 660.0,862.0 C673.3,856.3 690.0,847.0 700.0,840.0 C710.0,833.0 715.0,826.0 720.0,820.0 C725.0,814.0 728.3,806.7 730.0,804.0" fill="none" stroke="#262626" stroke-width="1.4" />
<line x1="431" y1="834" x2="431" y2="858" stroke="#262626" stroke-width="1.26"/>
<line x1="435" y1="835" x2="435" y2="858" stroke="#262626" stroke-width="1.26"/>
<line x1="449" y1="838" x2="449" y2="858" stroke="#262626" stroke-width="1.26"/>
<line x1="463" y1="840" x2="463" y2="860" stroke="#262626" stroke-width="1.26"/>
<line x1="472" y1="835" x2="472" y2="880" stroke="#262626" stroke-width="1.12"/>
<line x1="472" y1="880" x2="472" y2="926" stroke="#262626" stroke-width="0.98" stroke-dasharray="8 3"/>
<line x1="440" y1="860" x2="440" y2="904" stroke="#262626" stroke-width="1.26"/>
<path d="M402.0,846.0 C403.3,849.3 407.0,860.0 410.0,866.0 C413.0,872.0 415.0,876.3 420.0,882.0 C425.0,887.7 431.7,894.1 440.0,900.0 C448.3,905.9 460.2,912.5 470.0,917.5 C479.8,922.5 489.0,926.8 499.0,930.0 C509.0,933.2 519.8,935.4 530.0,936.8 C540.2,938.2 550.0,938.6 560.0,938.6 C570.0,938.6 580.0,938.1 590.0,936.8 C600.0,935.5 608.3,934.5 620.0,931.0 C631.7,927.5 648.3,921.5 660.0,916.0 C671.7,910.5 681.0,904.3 690.0,898.0 C699.0,891.7 707.7,884.7 714.0,878.0 C720.3,871.3 724.5,865.0 728.0,858.0 C731.5,851.0 733.7,846.0 735.0,836.0 C736.3,826.0 735.8,804.3 736.0,798.0" fill="none" stroke="#262626" stroke-width="1.54" />
<path d="M412.0,850.0 C412.7,853.0 413.7,862.3 416.0,868.0 C418.3,873.7 421.7,879.3 426.0,884.0 C430.3,888.7 434.7,891.3 442.0,896.0 C449.3,900.7 460.7,907.7 470.0,912.0 C479.3,916.3 488.0,919.3 498.0,922.0 C508.0,924.7 519.7,926.8 530.0,928.0 C540.3,929.2 550.0,929.3 560.0,929.0 C570.0,928.7 580.0,927.5 590.0,926.0 C600.0,924.5 608.3,923.5 620.0,920.0 C631.7,916.5 648.7,910.3 660.0,905.0 C671.3,899.7 680.3,893.5 688.0,888.0 C695.7,882.5 700.7,877.7 706.0,872.0 C711.3,866.3 716.3,860.0 720.0,854.0 C723.7,848.0 726.3,844.3 728.0,836.0 C729.7,827.7 729.7,809.3 730.0,804.0" fill="none" stroke="#262626" stroke-width="1.26" />
<line x1="498.5" y1="922" x2="499" y2="931" stroke="#262626" stroke-width="1.26"/>
</g>
<g transform="translate(364.1,609.6) rotate(-29)"><rect x="-18" y="-3.6" width="36" height="7.2" rx="3.6" fill="#fff" stroke="#262626" stroke-width="2.3"/><path d="M-7,-2.6 L-14.4,-2.6 A2.6,2.6 0 0 0 -14.4,2.6 L-7,2.6Z M7,-2.6 L14.4,-2.6 A2.6,2.6 0 0 1 14.4,2.6 L7,2.6Z" fill="#4a4a4a" stroke="none"/><path d="M-15,1.2 L15,1.2" stroke="#262626" stroke-width="0.9"/></g>
<g transform="translate(540,475.5) rotate(-29)"><rect x="-18" y="-3.6" width="36" height="7.2" rx="3.6" fill="#fff" stroke="#262626" stroke-width="2.3"/><path d="M-7,-2.6 L-14.4,-2.6 A2.6,2.6 0 0 0 -14.4,2.6 L-7,2.6Z M7,-2.6 L14.4,-2.6 A2.6,2.6 0 0 1 14.4,2.6 L7,2.6Z" fill="#4a4a4a" stroke="none"/><path d="M-15,1.2 L15,1.2" stroke="#262626" stroke-width="0.9"/></g>
<text x="553" y="1010.5" font-family="Liberation Sans, sans-serif" font-weight="bold" font-size="17.5" fill="#111" stroke="none">100</text>
<g transform="translate(150,530) scale(0.16)" stroke="#262626" fill="none"><path d="M245,447 L245,255 C245,215 275,180 315,170 C350,163 366,185 366,225 L366,335 L268,420 Z" stroke-width="11.9" fill="#fff" stroke="#262626"/><path d="M263,405 L263,258 C263,225 285,198 318,189 C340,184 349,196 349,225 L349,340" stroke-width="5.6" fill="none" stroke="#262626"/><path d="M366,335 L379,349 L272,437 L246,447" stroke-width="7.5" fill="none" stroke="#262626"/><ellipse cx="305" cy="275" rx="16" ry="22" transform="rotate(32 305 275)" stroke-width="11" stroke="#333" fill="#ccc"/><path d="M379,349 L425,368 L470,405 L525,440 L560,415 L577,430 L577,552 L545,572 L535,640 L530,722 L385,832 L290,802 L245,770 L215,582 L290,520 L300,455" stroke-width="8.8" fill="#fff" stroke="#262626"/><path d="M525,440 L525,578 M545,572 L545,450 L577,430" stroke-width="6.2" fill="none" stroke="#262626"/><circle cx="549" cy="482" r="5.5" fill="#262626" stroke="none"/><path d="M380,366 C420,360 462,392 492,432" stroke-width="6.2" fill="none" stroke="#262626"/><path d="M352,452 C372,438 408,434 432,456 C464,492 482,560 478,622 L442,642 C432,580 402,520 352,482 Z" stroke-width="5.0" fill="#2c2c2c" stroke="#262626"/><circle cx="415" cy="512" r="19" fill="#d8d8d8" stroke="#262626" stroke-width="7"/><circle cx="415" cy="512" r="5" fill="#262626" stroke="none"/><path d="M448,540 L462,560 L458,590 L445,575Z" stroke-width="3.8" fill="#fff" stroke="#262626"/><path d="M318,426 C340,392 385,378 425,395 C475,420 515,500 526,585 L521,616 L480,622 C484,560 464,490 432,456 C406,432 372,440 352,453 Z" stroke-width="8.8" fill="#fff" stroke="#262626"/><path d="M226,588 L290,530 L303,556 L346,560 L378,612 L332,636 L262,666 L238,640 Z" stroke-width="5.0" fill="#2c2c2c" stroke="#262626"/><path d="M252,600 L270,590 L280,610 L262,622Z M300,575 L318,572 L322,590 L305,596Z M290,620 L310,612 L318,628 L298,638Z" stroke-width="2.5" fill="#fff" stroke="#fff"/><path d="M290,521 C310,480 345,478 376,510 C412,550 442,620 447,692 L411,702 C406,640 381,585 351,555 C331,535 309,535 296,551 Z" stroke-width="8.8" fill="#fff" stroke="#262626"/><path d="M347,692 L386,672 L411,702 L402,752 L381,777 L346,767 L330,752 Z" stroke-width="5.0" fill="#2c2c2c" stroke="#262626"/><path d="M356,712 L372,705 L378,722 L362,730Z M365,745 L380,740 L383,755 L370,760Z" stroke-width="2.5" fill="#fff" stroke="#fff"/><path d="M262,666 L318,636 L347,692 L325,763 L285,736 Z" stroke-width="8.8" fill="#fff" stroke="#262626"/><circle cx="296" cy="678" r="6.5" fill="#262626" stroke="none"/><path d="M385,832 L380,779 L410,753 L532,656 M380,779 L335,766" stroke-width="7.5" fill="none" stroke="#262626"/><circle cx="421" cy="761" r="5.5" fill="#262626" stroke="none"/><path d="M215,582 L250,612 L276,792 M250,612 L262,666" stroke-width="6.2" fill="none" stroke="#262626"/><path d="M447,645 L500,668 L535,668 M452,690 L505,706" stroke-width="6.2" fill="none" stroke="#262626"/></g>
<g transform="translate(325.4,396.6) scale(0.16)" stroke="#262626" fill="none"><path d="M245,447 L245,255 C245,215 275,180 315,170 C350,163 366,185 366,225 L366,335 L268,420 Z" stroke-width="11.9" fill="#fff" stroke="#262626"/><path d="M263,405 L263,258 C263,225 285,198 318,189 C340,184 349,196 349,225 L349,340" stroke-width="5.6" fill="none" stroke="#262626"/><path d="M366,335 L379,349 L272,437 L246,447" stroke-width="7.5" fill="none" stroke="#262626"/><ellipse cx="305" cy="275" rx="16" ry="22" transform="rotate(32 305 275)" stroke-width="11" stroke="#333" fill="#ccc"/><path d="M379,349 L425,368 L470,405 L525,440 L560,415 L577,430 L577,552 L545,572 L535,640 L530,722 L385,832 L290,802 L245,770 L215,582 L290,520 L300,455" stroke-width="8.8" fill="#fff" stroke="#262626"/><path d="M525,440 L525,578 M545,572 L545,450 L577,430" stroke-width="6.2" fill="none" stroke="#262626"/><circle cx="549" cy="482" r="5.5" fill="#262626" stroke="none"/><path d="M380,366 C420,360 462,392 492,432" stroke-width="6.2" fill="none" stroke="#262626"/><path d="M352,452 C372,438 408,434 432,456 C464,492 482,560 478,622 L442,642 C432,580 402,520 352,482 Z" stroke-width="5.0" fill="#2c2c2c" stroke="#262626"/><circle cx="415" cy="512" r="19" fill="#d8d8d8" stroke="#262626" stroke-width="7"/><circle cx="415" cy="512" r="5" fill="#262626" stroke="none"/><path d="M448,540 L462,560 L458,590 L445,575Z" stroke-width="3.8" fill="#fff" stroke="#262626"/><path d="M318,426 C340,392 385,378 425,395 C475,420 515,500 526,585 L521,616 L480,622 C484,560 464,490 432,456 C406,432 372,440 352,453 Z" stroke-width="8.8" fill="#fff" stroke="#262626"/><path d="M226,588 L290,530 L303,556 L346,560 L378,612 L332,636 L262,666 L238,640 Z" stroke-width="5.0" fill="#2c2c2c" stroke="#262626"/><path d="M252,600 L270,590 L280,610 L262,622Z M300,575 L318,572 L322,590 L305,596Z M290,620 L310,612 L318,628 L298,638Z" stroke-width="2.5" fill="#fff" stroke="#fff"/><path d="M290,521 C310,480 345,478 376,510 C412,550 442,620 447,692 L411,702 C406,640 381,585 351,555 C331,535 309,535 296,551 Z" stroke-width="8.8" fill="#fff" stroke="#262626"/><path d="M347,692 L386,672 L411,702 L402,752 L381,777 L346,767 L330,752 Z" stroke-width="5.0" fill="#2c2c2c" stroke="#262626"/><path d="M356,712 L372,705 L378,722 L362,730Z M365,745 L380,740 L383,755 L370,760Z" stroke-width="2.5" fill="#fff" stroke="#fff"/><path d="M262,666 L318,636 L347,692 L325,763 L285,736 Z" stroke-width="8.8" fill="#fff" stroke="#262626"/><circle cx="296" cy="678" r="6.5" fill="#262626" stroke="none"/><path d="M385,832 L380,779 L410,753 L532,656 M380,779 L335,766" stroke-width="7.5" fill="none" stroke="#262626"/><circle cx="421" cy="761" r="5.5" fill="#262626" stroke="none"/><path d="M215,582 L250,612 L276,792 M250,612 L262,666" stroke-width="6.2" fill="none" stroke="#262626"/><path d="M447,645 L500,668 L535,668 M452,690 L505,706" stroke-width="6.2" fill="none" stroke="#262626"/></g>
<ellipse cx="261.5" cy="607" rx="5.2" ry="6.6" fill="#555" stroke="#2a2a2a" stroke-width="3" transform="rotate(25 261.5 607)"/><ellipse cx="262.1" cy="607.3" rx="1.6" ry="2.6" fill="none" stroke="#ddd" stroke-width="1.12" transform="rotate(25 262.1 607.3)"/>
<ellipse cx="436.5" cy="472.5" rx="5.2" ry="6.6" fill="#555" stroke="#2a2a2a" stroke-width="3" transform="rotate(25 436.5 472.5)"/><ellipse cx="437.1" cy="472.8" rx="1.6" ry="2.6" fill="none" stroke="#ddd" stroke-width="1.12" transform="rotate(25 437.1 472.8)"/>
<line x1="206" y1="577" x2="254" y2="603" stroke="#444" stroke-width="0.84"/>
<line x1="381" y1="442" x2="430" y2="468.5" stroke="#444" stroke-width="0.84"/>
<g id="wm" opacity="0.33" stroke="none">
<rect x="349.7" y="439.4" width="300.8" height="122.4" rx="15" ry="15" fill="none" stroke="#282627" stroke-width="4.5"/>
<path fill-rule="evenodd" fill="#282627" d="M440,462.5 L440,459.5 Q441,457.5 447,457.5 L478,457.5 Q480,454.3 487,454.3 L496,454.3 Q501,454.3 503,457.5 L531,457.5 Q534,454.2 540,454.2 L550,454.2 Q554,456.2 559,456.2 L571,456.2 Q581,457.5 586.5,466 Q591.5,473 594.4,480 L588.6,481.6 L600,495 Q606,499.5 613.5,501.5 Q618.8,503.5 619.8,510 L621.3,520 L621.8,528.3 L535,528.3 L535,462.5 Z M537.5,476.5 L565,476.5 L565,497.5 L537.5,497.5Z M575.5,486 L589,486 Q593,487 596,492 L600,497.5 L575.5,497.5Z"/>
<path fill-rule="evenodd" fill="#3ab3ad" d="M414,462.5 L535,462.5 L535,528.3 L367,528.3 Q380,526 388,517 Q395.5,506 399.5,490 Q402.5,468 414,462.5Z M414,481.5 L451,481.5 L451,500 L414,500Z M481,481.5 L517.5,481.5 L517.5,500 L481,500Z"/>
</g>
<circle cx="470.7" cy="528" r="9.6" fill="#fff" stroke="none"/>
<g opacity="0.33"><circle cx="470.7" cy="528" r="6.6" fill="#3ab3ad" stroke="#282627" stroke-width="3.6"/></g>
<circle cx="601" cy="528" r="9.6" fill="#fff" stroke="none"/>
<g opacity="0.33"><circle cx="601" cy="528" r="6.6" fill="#3ab3ad" stroke="#282627" stroke-width="3.6"/></g>
<path d="M611,503.5 L616.5,504.5 L617.8,510.5 L611.5,510Z" fill="#e8d84a" stroke="none" opacity="0.75"/>
<text x="484.5" y="549" font-family="Liberation Sans, sans-serif" font-weight="bold" font-size="15.5" textLength="138" lengthAdjust="spacingAndGlyphs" fill="#444" stroke="none" opacity="0.5">Schippercaravans.nl</text>
</svg>
</body></html>
